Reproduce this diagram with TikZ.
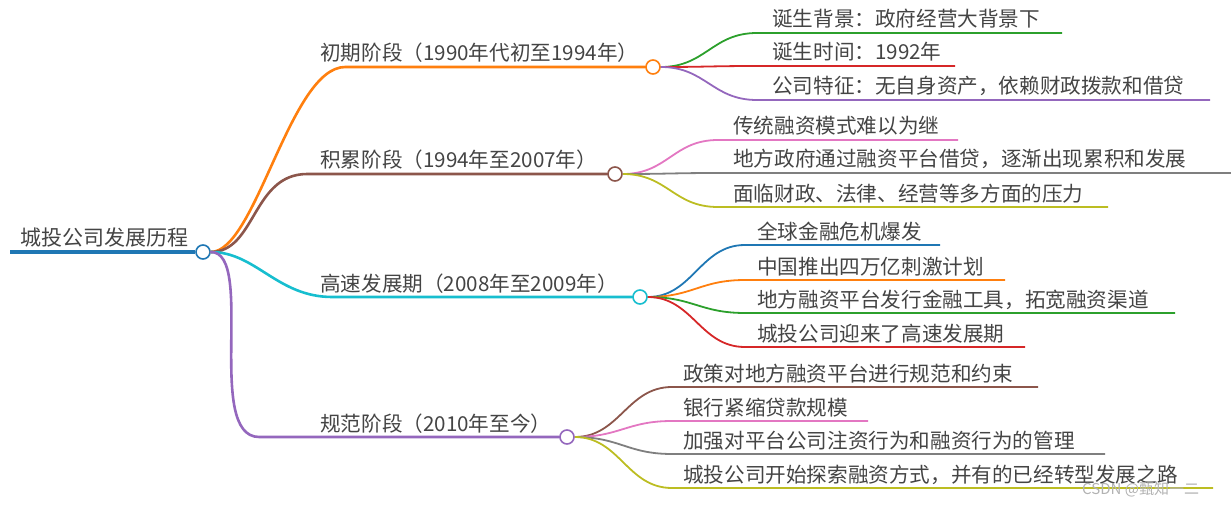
\documentclass[tikz,border=0pt]{standalone}
\usepackage{fontspec}
\setmainfont{Noto Sans CJK SC}
\definecolor{mblue}{HTML}{1F77B4}
\definecolor{morange}{HTML}{FF7F0E}
\definecolor{mgreen}{HTML}{2CA02C}
\definecolor{mred}{HTML}{D62728}
\definecolor{mpurple}{HTML}{9467BD}
\definecolor{mbrown}{HTML}{8C564B}
\definecolor{mpink}{HTML}{E377C2}
\definecolor{mgray}{HTML}{7F7F7F}
\definecolor{molive}{HTML}{BCBD22}
\definecolor{mcyan}{HTML}{17BECF}
\definecolor{mtext}{HTML}{444444}
\tikzset{
    txt/.style={anchor=base west, inner sep=0pt, text=mtext, font=\fontsize{20.6}{24}\selectfont},
    knot/.style={circle, draw=#1, fill=white, line width=1.6pt, minimum size=14pt, inner sep=0pt},
    branch/.style={line width=2.6pt, draw=#1, line cap=round},
    twig/.style={line width=1.8pt, draw=#1},
}
\begin{document}
\begin{tikzpicture}[x=1pt, y=-1pt]
    \useasboundingbox (0,0) rectangle (1231,505);

    % ===== 根节点 =====
    \node[knot=mblue] (root) at (203,252) {};
    \coordinate (rootstart) at (10,252);
    \draw[line width=4pt, mblue] (rootstart) -- (root.west);
    \node[txt, font=\fontsize{21}{24}\selectfont] (roottxt) at (20,245) {城投公司发展历程};

    % ===== 一级分支 =====
    \node[knot=morange] (p1) at (653,67) {};
    \node[knot=mbrown]  (p2) at (615,174) {};
    \node[knot=mcyan]   (p3) at (640,297) {};
    \node[knot=mpurple] (p4) at (567,437) {};

    \node[txt] (t1) at (320,61) {初期阶段（1990年代初至1994年）};
    \node[txt] (t2) at (320,168) {积累阶段（1994年至2007年）};
    \node[txt] (t3) at (320,291) {高速发展期（2008年至2009年）};
    \node[txt] (t4) at (320,431) {规范阶段（2010年至今）};

    \foreach \p/\c in {p1/morange, p2/mbrown, p3/mcyan, p4/mpurple} {
        \draw[branch=\c] (root.east) .. controls +(45,0) and +(-55,0) .. ([xshift=-300pt]\p.west |- \p) -- (\p.west);
    }

    % ===== 初期阶段 =====
    \foreach \n/\y/\e/\c/\t in {a/33/1062/mgreen/诞生背景：政府经营大背景下,
                                b/66/955/mred/诞生时间：1992年,
                                c/100/1210/mpurple/公司特征：无自身资产，依赖财政拨款和借贷} {
        \coordinate (p1\n) at (\e,\y);
        \node[txt] (t1\n) at (772,\y-6) {\t};
        \draw[twig=\c] (p1.east) .. controls +(45,0) and +(-45,0) .. (757,\y) -- (p1\n);
    }

    % ===== 积累阶段 =====
    \foreach \n/\y/\e/\c/\t in {a/140/958/mpink/传统融资模式难以为继,
                                b/173/1231/mgray/地方政府通过融资平台借贷，逐渐出现累积和发展,
                                c/207/1108/molive/面临财政、法律、经营等多方面的压力} {
        \coordinate (p2\n) at (\e,\y);
        \node[txt] (t2\n) at (733,\y-6) {\t};
        \draw[twig=\c] (p2.east) .. controls +(45,0) and +(-45,0) .. (718,\y) -- (p2\n);
    }

    % ===== 高速发展期 =====
    \foreach \n/\y/\e/\c/\t in {a/245/940/mblue/全球金融危机爆发,
                                b/280/1005/morange/中国推出四万亿刺激计划,
                                c/313/1175/mgreen/地方融资平台发行金融工具，拓宽融资渠道,
                                d/347/1025/mred/城投公司迎来了高速发展期} {
        \coordinate (p3\n) at (\e,\y);
        \node[txt] (t3\n) at (757,\y-6) {\t};
        \draw[twig=\c] (p3.east) .. controls +(45,0) and +(-45,0) .. (745,\y) -- (p3\n);
    }

    % ===== 规范阶段 =====
    \foreach \n/\y/\e/\c/\t in {a/387/1038/mbrown/政策对地方融资平台进行规范和约束,
                                b/421/868/mpink/银行紧缩贷款规模,
                                c/454/1105/mgray/加强对平台公司注资行为和融资行为的管理,
                                d/488/1213/molive/城投公司开始探索融资方式，并有的已经转型发展之路} {
        \coordinate (p4\n) at (\e,\y);
        \node[txt] (t4\n) at (683,\y-6) {\t};
        \draw[twig=\c] (p4.east) .. controls +(45,0) and +(-45,0) .. (672,\y) -- (p4\n);
    }

    % 水印
    \node[txt, text=gray!60, font=\fontsize{15}{18}\selectfont] (mark) at (1082,494) {CSDN @甄知一二};
\end{tikzpicture}
\end{document}
